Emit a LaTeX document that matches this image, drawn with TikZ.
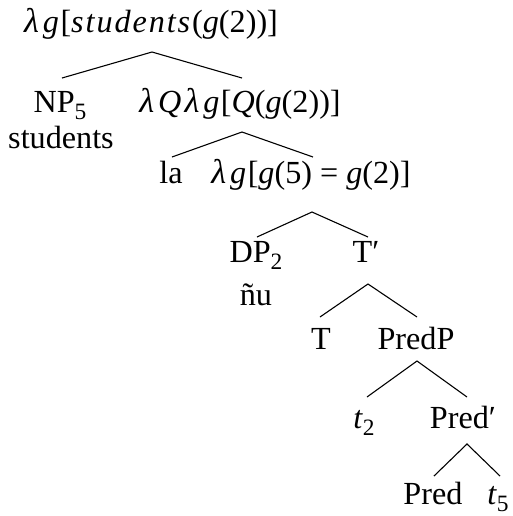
\documentclass[tikz,border=0pt]{standalone}
\usepackage{fontspec}
\setmainfont{Liberation Serif}
\newcommand{\lsub}[1]{\raisebox{-0.22em}{\fontsize{7.5pt}{8pt}\selectfont #1}}
\newcommand{\iv}[1]{{\itshape\addfontfeature{LetterSpace=6}#1\/}}
\newcommand{\il}[1]{{\itshape #1\/}}
\newcommand{\lam}{{\itshape\fontsize{11pt}{12pt}\selectfont λ}\kern0.12em}
\begin{document}
\begin{tikzpicture}[x=0.32pt,y=-0.32pt,
  lbl/.style={anchor=base,inner sep=0pt,font=\fontsize{10.3pt}{12pt}\selectfont},
  branch/.style={line width=0.35pt}]
\useasboundingbox (0,0) rectangle (513,516);
\node[lbl] (root) at (151,32) {\lam\il{g}\kern0.05em[\iv{students}(\il{g}(2))]};
\node[lbl] (np) at (60,112) {NP\lsub{5}};
\node[lbl] (npw) at (61,148) {students};
\node[lbl] (lq) at (240,112) {\lam\il{Q}\kern0.1em\lam\il{g}\kern0.05em[\il{Q}(\il{g}(2))]};
\node[lbl] (la) at (171,183) {la};
\node[lbl] (lg) at (311,183) {\lam\il{g}\kern0.05em[\il{g}(5)\kern0.25em=\kern0.25em\il{g}(2)]};
\node[lbl] (dp) at (256,262) {DP\lsub{2}};
\node[lbl] (nu) at (256,305) {ñu};
\node[lbl] (tbar) at (366,262) {T′};
\node[lbl] (t) at (321,349) {T};
\node[lbl] (predp) at (416,349) {PredP};
\node[lbl] (ttwo) at (364,428) {\il{t}\lsub{2}};
\node[lbl] (predbar) at (463,428) {Pred′};
\node[lbl] (pred) at (433,504) {Pred};
\node[lbl] (tfive) at (498,504) {\il{t}\lsub{5}};
\draw[branch] ([shift={(2,-34)}]np.base) -- ([shift={(1,20)}]root.base) -- ([shift={(2,-34)}]lq.base);
\draw[branch] ([shift={(1,-26)}]la.base) -- ([shift={(2,20)}]lq.base) -- ([shift={(2,-26)}]lg.base);
\draw[branch] ([shift={(1,-25)}]dp.base) -- ([shift={(1,29)}]lg.base) -- ([shift={(2,-25)}]tbar.base);
\draw[branch] ([shift={(-1,-32)}]t.base) -- ([shift={(2,22)}]tbar.base) -- ([shift={(1,-32)}]predp.base);
\draw[branch] ([shift={(3,-31)}]ttwo.base) -- ([shift={(1,12)}]predp.base) -- ([shift={(4,-31)}]predbar.base);
\draw[branch] ([shift={(1,-28)}]pred.base) -- ([shift={(4,16)}]predbar.base) -- ([shift={(2,-28)}]tfive.base);
\end{tikzpicture}
\end{document}
